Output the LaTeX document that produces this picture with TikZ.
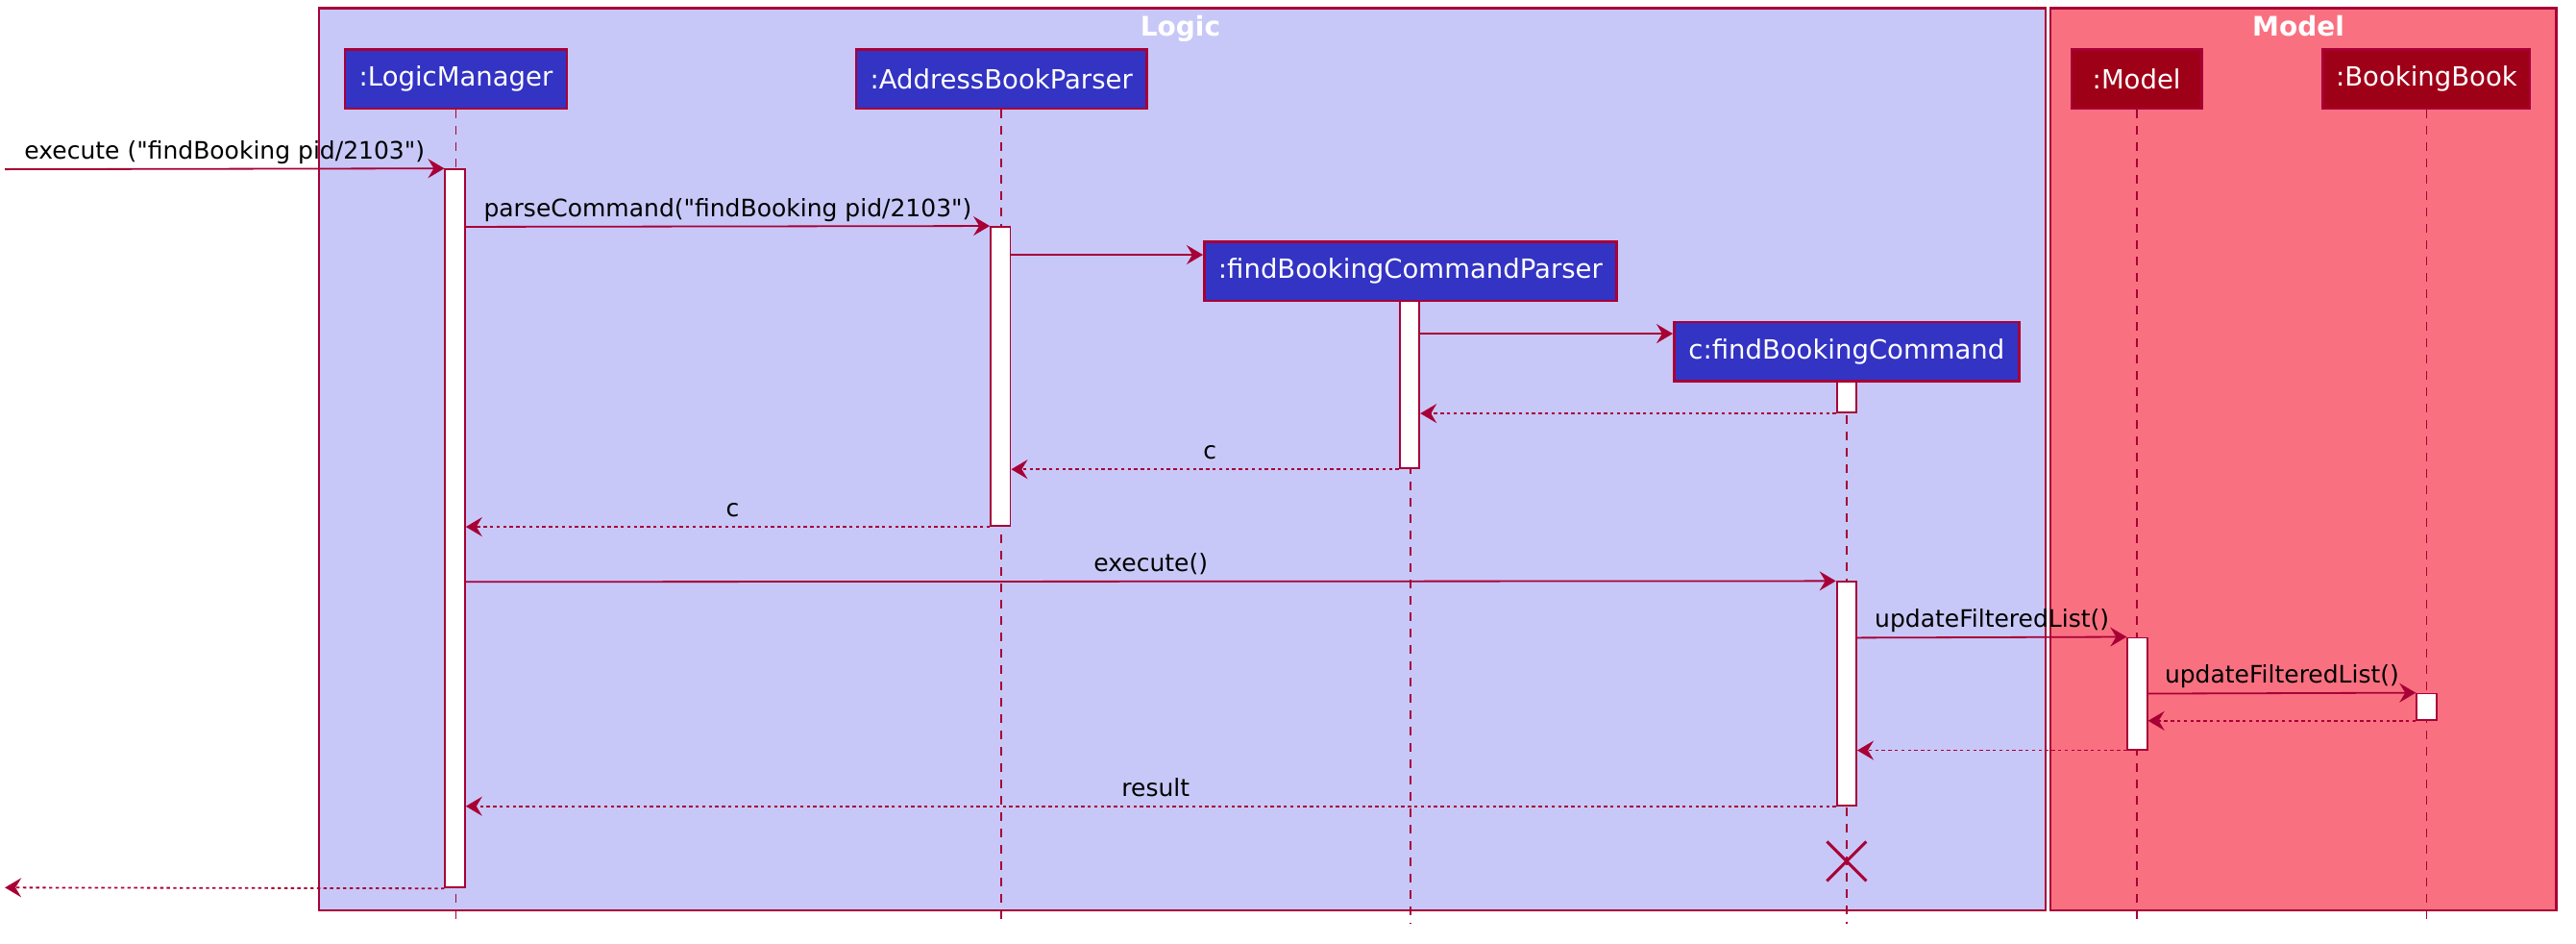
\documentclass[tikz,border=0pt]{standalone}
\usepackage{fontspec}
\setmainfont{DejaVu Sans}
\newfontfamily\plainfont{DejaVu Sans}
\usetikzlibrary{arrows.meta,fit,shapes.misc}
\definecolor{bord}{HTML}{A80036}
\definecolor{logicbg}{HTML}{C8C8F8}
\definecolor{modelbg}{HTML}{F97181}
\definecolor{lpart}{HTML}{3333C4}
\definecolor{mpart}{HTML}{9E0018}
\begin{document}
\begin{tikzpicture}[x=1.7098pt,y=-1.7098pt,
  grp/.style={draw=bord, line width=2.2pt, inner sep=0pt},
  grptitle/.style={text=white, anchor=base, font=\plainfont\fontsize{28}{32}\selectfont\bfseries, inner sep=0pt},
  part/.style={draw=bord, line width=2.6pt, inner sep=0pt, minimum height=61.6pt, text=white, font=\plainfont\fontsize{27.5}{31}\selectfont},
  lp/.style={part, fill=lpart},
  mp/.style={part, fill=mpart},
  life/.style={draw=bord, line width=1.7pt, dash pattern=on 8.5pt off 8.5pt},
  act/.style={draw=bord, fill=white, line width=1.8pt, inner sep=0pt},
  msg/.style={draw=bord, line width=1.8pt, -{Stealth[length=17pt,width=20pt,inset=6pt]}},
  ret/.style={msg, dash pattern=on 3.4pt off 3.4pt},
  lbl/.style={midway, anchor=base, yshift=10.3pt, inner sep=0pt, text=black, font=\plainfont\fontsize{25}{29}\selectfont},
  rlbl/.style={lbl, xshift=5pt}
]
\useasboundingbox (0,0) rectangle (1568,574);
\fill[white] (0,0) rectangle (1568,574);
% groups
\node[grp, fill=logicbg, fit={(194,5)(1245,554)}] (logic) {};
\node[grp, fill=modelbg, fit={(1248,5)(1556,554)}] (model) {};
\node[grptitle] (logict) at (718.5,22) {Logic};
\node[grptitle] (modelt) at (1399,22) {Model};
% participants
\node[lp, minimum width=230.8pt] (lm) at (277.5,48) {:LogicManager};
\node[lp, minimum width=302.6pt] (abp) at (609.5,48) {:AddressBookParser};
\node[lp, minimum width=429.2pt] (fbcp) at (858.5,165) {:findBookingCommandParser};
\node[lp, minimum width=359.1pt] (fbc) at (1124,214) {c:findBookingCommand};
\node[mp, minimum width=135.1pt] (mdl) at (1300.5,48) {:Model};
\node[mp, minimum width=215.4pt] (bb) at (1477,48) {:BookingBook};
% lifelines
\foreach \p in {lm,abp,fbcp,fbc,mdl,bb}
  \draw[life] (\p.south) -- (\p.south |- 0,562);
% activations
\node[act, fit={(271,103)(283,540)}] (a1) {};
\node[act, fit={(603,138)(615,320)}] (a2) {};
\node[act, fit={(852,183)(864,285)}] (a3) {};
\node[act, fit={(1118,232)(1130,251)}] (a4) {};
\node[act, fit={(1118,354)(1130,490)}] (a5) {};
\node[act, fit={(1295,388)(1307,456)}] (a6) {};
\node[act, fit={(1471,422)(1483,438)}] (a7) {};
% destroy
\node[draw=bord, cross out, line width=3pt, minimum width=38pt, minimum height=38pt, inner sep=0pt] (kill) at (1124,524) {};
% external ends
\coordinate (ext1) at (3,103);
\coordinate (ext2) at (3,540);
% messages
\draw[msg] (ext1) -- (a1.north west) node[lbl] {execute ("findBooking pid/2103")};
\draw[msg] (a1.east |- 0,138) -- (a2.north west) node[lbl] {parseCommand("findBooking pid/2103")};
\draw[msg] (a2.east |- 0,155) -- (fbcp.west |- 0,155);
\draw[msg] (a3.east |- 0,203) -- (fbc.west |- 0,203);
\draw[ret] (a4.south west) -- (a3.east |- a4.south);
\draw[ret] (a3.south west) -- (a2.east |- a3.south) node[rlbl] {c};
\draw[ret] (a2.south west) -- (a1.east |- a2.south) node[rlbl] {c};
\draw[msg] (a1.east |- 0,354) -- (a5.north west) node[lbl] {execute()};
\draw[msg] (a5.east |- 0,388) -- (a6.north west) node[lbl] {updateFilteredList()};
\draw[msg] (a6.east |- 0,422) -- (a7.north west) node[lbl] {updateFilteredList()};
\draw[ret] (a7.south west) -- (a6.east |- a7.south);
\draw[ret] (a6.south west) -- (a5.east |- a6.south);
\draw[ret] (a5.south west) -- (a1.east |- a5.south) node[rlbl] {result};
\draw[ret] (a1.south west) -- (ext2);
\end{tikzpicture}
\end{document}
